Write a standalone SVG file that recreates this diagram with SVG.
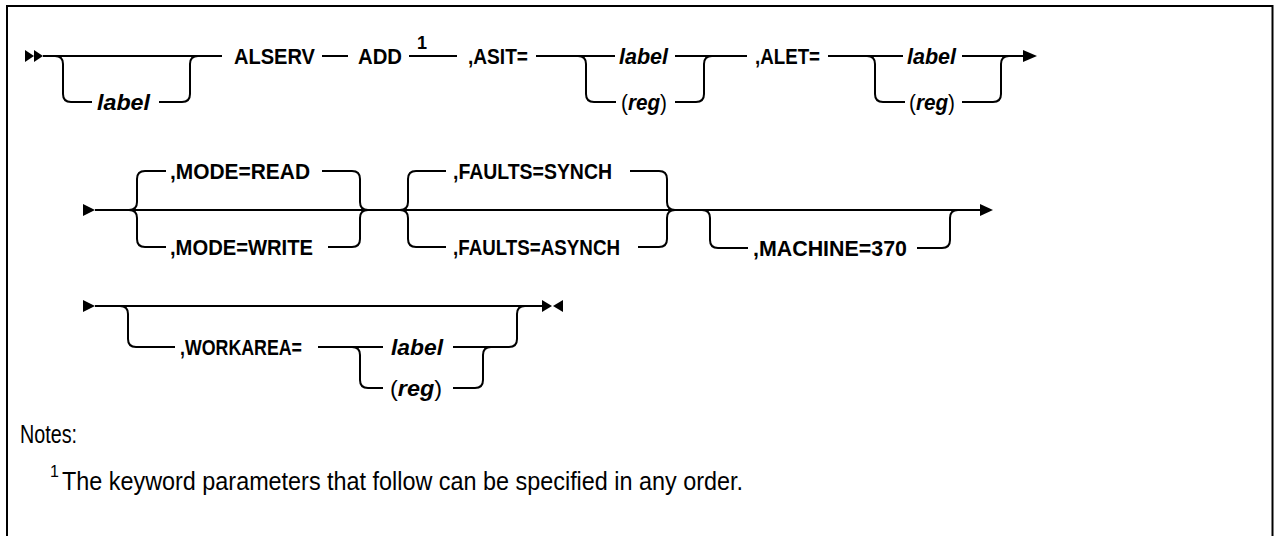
<svg xmlns="http://www.w3.org/2000/svg" width="1274" height="536" viewBox="0 0 1274 536">
<style>
.t{font-family:"Liberation Sans",Arial,sans-serif;font-size:22px;font-weight:bold;fill:#000}
.i{font-style:italic}
.n{font-weight:normal;font-style:normal}
.note{font-family:"Liberation Sans",Arial,sans-serif;font-size:25px;fill:#000}
.ln{fill:none;stroke:#000;stroke-width:2}
.ah{fill:#000}
</style>
<rect x="7" y="6" width="1265.5" height="560" fill="#fff" stroke="#000" stroke-width="2"/>
<g id="connectors">
<polygon class="ah" points="25,50 34,56 25,62"/>
<polygon class="ah" points="34,50 43,56 34,62"/>
<path class="ln" d="M43 56 H222"/>
<path class="ln" d="M55 56 Q63 56 63 64 V94 Q63 102 71 102 H92"/>
<path class="ln" d="M159 102 H182 Q190 102 190 94 V64 Q190 56 198 56"/>
<path class="ln" d="M322 56 H348"/>
<path class="ln" d="M409 56 H457"/>
<path class="ln" d="M536 56 H615"/>
<path class="ln" d="M675 56 H747"/>
<path class="ln" d="M578 56 Q586 56 586 64 V94 Q586 102 594 102 H616"/>
<path class="ln" d="M675 102 H696 Q704 102 704 94 V64 Q704 56 712 56"/>
<path class="ln" d="M828 56 H903"/>
<path class="ln" d="M962 56 H1024"/>
<path class="ln" d="M867 56 Q875 56 875 64 V94 Q875 102 883 102 H905"/>
<path class="ln" d="M962 102 H993 Q1001 102 1001 94 V64 Q1001 56 1009 56"/>
<polygon class="ah" points="1023,50 1037,56 1023,62"/>
<polygon class="ah" points="83,204 95,210 83,216"/>
<path class="ln" d="M95 210 H981"/>
<path class="ln" d="M166 171 H145 Q137 171 137 179 V202 Q137 210 129 210 Q137 210 137 218 V239 Q137 247 145 247 H166"/>
<path class="ln" d="M322 171 H352 Q360 171 360 179 V202 Q360 210 368 210 Q360 210 360 218 V239 Q360 247 352 247 H328"/>
<path class="ln" d="M446 171 H416 Q408 171 408 179 V202 Q408 210 400 210 Q408 210 408 218 V239 Q408 247 416 247 H446"/>
<path class="ln" d="M630 171 H659 Q667 171 667 179 V202 Q667 210 675 210 Q667 210 667 218 V239 Q667 247 659 247 H638"/>
<path class="ln" d="M702 210 Q710 210 710 218 V240 Q710 248 718 248 H748"/>
<path class="ln" d="M917 248 H942 Q950 248 950 240 V218 Q950 210 958 210"/>
<polygon class="ah" points="980,204 993,210 980,216"/>
<polygon class="ah" points="83,300 95,306 83,312"/>
<path class="ln" d="M95 306 H543"/>
<path class="ln" d="M120 306 Q128 306 128 314 V339 Q128 347 136 347 H175"/>
<path class="ln" d="M318 347 H383"/>
<path class="ln" d="M453 347 H509 Q517 347 517 339 V314 Q517 306 525 306"/>
<path class="ln" d="M352 347 Q360 347 360 355 V380 Q360 388 368 388 H383"/>
<path class="ln" d="M453 388 H475 Q483 388 483 380 V355 Q483 347 491 347"/>
<polygon class="ah" points="542,300 552,306 542,312"/>
<polygon class="ah" points="563,300 553,306 563,312"/>
</g>
<g id="n-label-opt"><text class="t i" x="97" y="110" textLength="53" lengthAdjust="spacingAndGlyphs">label</text></g>
<g id="n-alserv"><text class="t" x="234" y="64" textLength="81" lengthAdjust="spacingAndGlyphs">ALSERV</text></g>
<g id="n-add"><text class="t" x="358" y="64" textLength="44" lengthAdjust="spacingAndGlyphs">ADD</text><text class="t" x="417" y="49" style="font-size:18px">1</text></g>
<g id="n-asit"><text class="t" x="468" y="64" textLength="60" lengthAdjust="spacingAndGlyphs">,ASIT=</text></g>
<g id="n-asit-label"><text class="t i" x="619" y="64" textLength="49" lengthAdjust="spacingAndGlyphs">label</text></g>
<g id="n-asit-reg"><text class="t" x="621" y="110" textLength="46" lengthAdjust="spacingAndGlyphs"><tspan class="n">(</tspan><tspan class="i">reg</tspan><tspan class="n">)</tspan></text></g>
<g id="n-alet"><text class="t" x="755" y="64" textLength="65" lengthAdjust="spacingAndGlyphs">,ALET=</text></g>
<g id="n-alet-label"><text class="t i" x="907" y="64" textLength="49" lengthAdjust="spacingAndGlyphs">label</text></g>
<g id="n-alet-reg"><text class="t" x="909" y="110" textLength="46" lengthAdjust="spacingAndGlyphs"><tspan class="n">(</tspan><tspan class="i">reg</tspan><tspan class="n">)</tspan></text></g>
<g id="n-mode-read"><text class="t" x="170" y="179" textLength="140" lengthAdjust="spacingAndGlyphs">,MODE=READ</text></g>
<g id="n-mode-write"><text class="t" x="170" y="255" textLength="143" lengthAdjust="spacingAndGlyphs">,MODE=WRITE</text></g>
<g id="n-faults-synch"><text class="t" x="453" y="179" textLength="159" lengthAdjust="spacingAndGlyphs">,FAULTS=SYNCH</text></g>
<g id="n-faults-asynch"><text class="t" x="453" y="255" textLength="167" lengthAdjust="spacingAndGlyphs">,FAULTS=ASYNCH</text></g>
<g id="n-machine"><text class="t" x="753" y="256" textLength="154" lengthAdjust="spacingAndGlyphs">,MACHINE=370</text></g>
<g id="n-workarea"><text class="t" x="180" y="355" textLength="122" lengthAdjust="spacingAndGlyphs">,WORKAREA=</text></g>
<g id="n-wa-label"><text class="t i" x="391" y="355" textLength="52" lengthAdjust="spacingAndGlyphs">label</text></g>
<g id="n-wa-reg"><text class="t" x="390" y="396" textLength="52" lengthAdjust="spacingAndGlyphs"><tspan class="n">(</tspan><tspan class="i">reg</tspan><tspan class="n">)</tspan></text></g>
<g id="notes">
<text class="note" x="20" y="443" textLength="57" lengthAdjust="spacingAndGlyphs">Notes:</text>
<text class="note" x="50" y="477" style="font-size:16px">1</text>
<text class="note" x="62" y="490" textLength="681" lengthAdjust="spacingAndGlyphs">The keyword parameters that follow can be specified in any order.</text>
</g>
</svg>
